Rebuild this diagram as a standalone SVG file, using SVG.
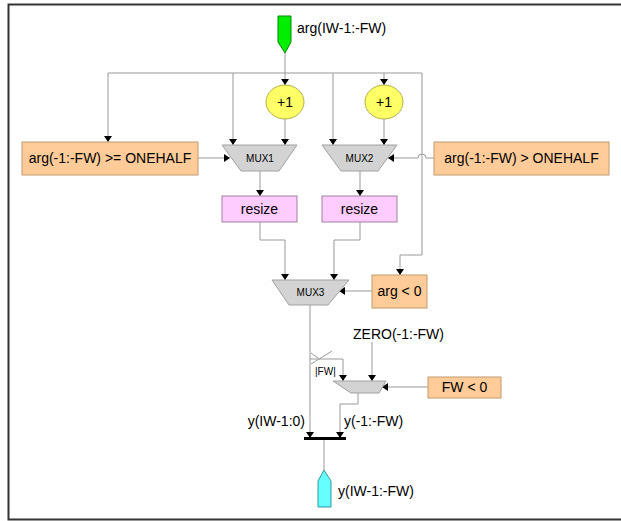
<svg xmlns="http://www.w3.org/2000/svg" width="621" height="521" viewBox="0 0 621 521">
<style>
text{font-family:"Liberation Sans",Arial,sans-serif;fill:#000}
.lbl{font-size:14px}
.sm{font-size:10px}
.box{fill:#FFCC99;stroke:#C09A70;stroke-width:1}
.rs{fill:#FFCCFF;stroke:#A080A0;stroke-width:1}
.mux{fill:#D3D3D3;stroke:#A0A0A0;stroke-width:1}
.inc{fill:#FFFF66;stroke:#B0B050;stroke-width:1}
.c{fill:none;stroke:#999;stroke-width:1}
.ca{fill:none;stroke:#999;stroke-width:1;marker-end:url(#ah)}
</style>
<defs>
<marker id="ah" markerUnits="userSpaceOnUse" markerWidth="8" markerHeight="8" refX="6" refY="4" orient="auto">
<path d="M0,0 L6,4 L0,8 z" fill="#000"/>
</marker>
</defs>
<rect x="8.5" y="4.5" width="620" height="515" fill="#fff" stroke="#333" stroke-width="2"/>

<g id="connectors">
<path class="c" d="M285,53 V73"/>
<path class="c" d="M108,73 H422"/>
<path class="ca" d="M108,73 V142"/>
<path class="ca" d="M233,73 V145"/>
<path class="ca" d="M285,73 V85"/>
<path class="ca" d="M333,73 V145"/>
<path class="ca" d="M384,73 V85"/>
<path class="ca" d="M422,73 V255 H400 V275"/>
<path class="ca" d="M285,119 V145"/>
<path class="ca" d="M384,119 V145"/>
<path class="ca" d="M198,158 H230"/>
<path class="ca" d="M434,158 H426 A4,4 0 0 0 418,158 H388"/>
<path class="ca" d="M260,171 V196"/>
<path class="ca" d="M360,171 V196"/>
<path class="ca" d="M260,222 V240 H285 V280"/>
<path class="ca" d="M360,222 V240 H334 V280"/>
<path class="ca" d="M372,291 H339"/>
<path class="ca" d="M310,305 V438"/>
<path class="ca" d="M310,359 H343 V381"/>
<path class="c" d="M311,364 L332,351 M311,353 L318,358"/>
<path class="ca" d="M372,342 V381"/>
<path class="ca" d="M428,387 H382"/>
<path class="ca" d="M358,393 V404 H340 V438"/>
<path class="c" d="M324,438 V470"/>
</g>

<g id="in_port">
<path d="M278,16 H291 V42 L285,53 L278,42 Z" fill="#00EE00" stroke="#008800" stroke-width="1"/>
<text class="lbl" x="297" y="33">arg(IW-1:-FW)</text>
</g>
<g id="inc1"><ellipse class="inc" cx="285" cy="102" rx="19" ry="17"/><text class="lbl" x="285" y="107" text-anchor="middle">+1</text></g>
<g id="inc2"><ellipse class="inc" cx="384" cy="102" rx="19" ry="17"/><text class="lbl" x="384" y="107" text-anchor="middle">+1</text></g>
<g id="cmp_ge"><rect class="box" x="22" y="142" width="176" height="33"/><text class="lbl" x="110" y="163" text-anchor="middle">arg(-1:-FW) &gt;= ONEHALF</text></g>
<g id="cmp_gt"><rect class="box" x="434" y="142" width="175" height="33"/><text class="lbl" x="521.5" y="163" text-anchor="middle">arg(-1:-FW) &gt; ONEHALF</text></g>
<g id="mux1"><path class="mux" d="M222,145 H297 L279,171 H241 Z"/><text class="sm" x="260" y="162" text-anchor="middle">MUX1</text></g>
<g id="mux2"><path class="mux" d="M322,145 H397 L378,171 H341 Z"/><text class="sm" x="359.5" y="162" text-anchor="middle">MUX2</text></g>
<g id="resize1"><rect class="rs" x="222" y="196" width="75" height="26"/><text class="lbl" x="259.5" y="214" text-anchor="middle">resize</text></g>
<g id="resize2"><rect class="rs" x="322" y="196" width="75" height="26"/><text class="lbl" x="359.5" y="214" text-anchor="middle">resize</text></g>
<g id="mux3"><path class="mux" d="M272,280 H349 L328,305 H289 Z"/><text class="sm" x="310.5" y="296" text-anchor="middle">MUX3</text></g>
<g id="neg"><rect class="box" x="372" y="275" width="55" height="33"/><text class="lbl" x="399.5" y="296" text-anchor="middle">arg &lt; 0</text></g>
<g id="zero"><text class="lbl" x="353" y="339">ZERO(-1:-FW)</text></g>
<g id="fwlabel"><text class="sm" x="315" y="375">|FW|</text></g>
<g id="mux4"><path class="mux" d="M333,381 H386 L379,393 H351 Z"/></g>
<g id="fwneg"><rect class="box" x="428" y="377" width="73" height="21"/><text class="lbl" x="464.5" y="392" text-anchor="middle">FW &lt; 0</text></g>
<g id="bar">
<path d="M304,438.5 H346" stroke="#000" stroke-width="3"/>
<text class="lbl" x="305" y="426" text-anchor="end">y(IW-1:0)</text>
<text class="lbl" x="344" y="426">y(-1:-FW)</text>
</g>
<g id="out_port">
<path d="M324,470 L331,481 V507 H318 V481 Z" fill="#66FFFF" stroke="#339999" stroke-width="1"/>
<text class="lbl" x="338" y="496">y(IW-1:-FW)</text>
</g>
</svg>
